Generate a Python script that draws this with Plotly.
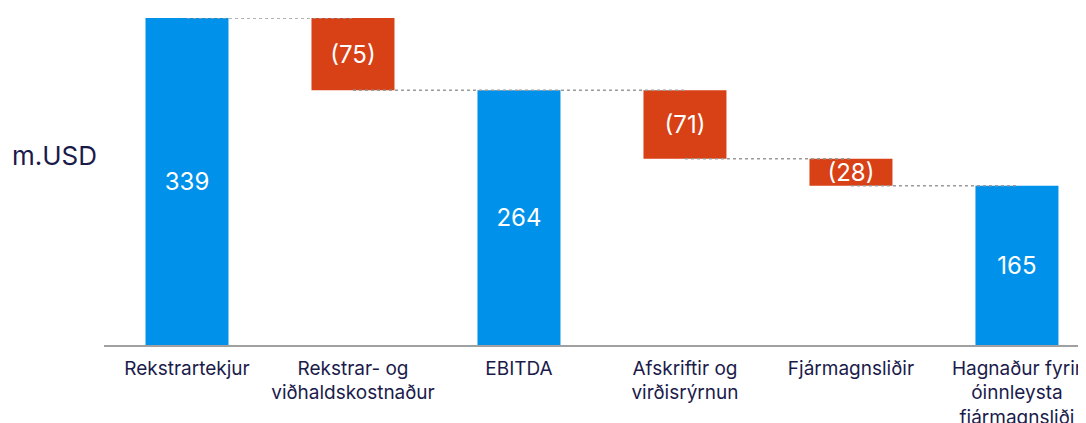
import plotly.graph_objects as go

categories = [
    "Rekstrartekjur",
    "Rekstrar- og<br>viðhaldskostnaður",
    "EBITDA",
    "Afskriftir og<br>virðisrýrnun",
    "Fjármagnsliðir",
    "Hagnaður fyrir<br>óinnleysta<br>fjármagnsliði",
]
measures = ["absolute", "relative", "total", "relative", "relative", "total"]
values = [339, -75, 0, -71, -28, 0]
labels = ["339", "(75)", "264", "(71)", "(28)", "165"]

BLUE = "#0091EA"
RED = "#D84016"
NAVY = "#1B1B4B"
FONT = "Inter, Liberation Sans, Arial, sans-serif"

fig = go.Figure()
fig.add_trace(go.Waterfall(
    x=categories,
    measure=measures,
    y=values,
    text=labels,
    textposition="inside",
    insidetextanchor="middle",
    textangle=0,
    constraintext="none",
    textfont=dict(color="white", size=24, family=FONT),
    increasing=dict(marker=dict(color=BLUE)),
    decreasing=dict(marker=dict(color=RED)),
    totals=dict(marker=dict(color=BLUE)),
    connector=dict(visible=False),
    width=0.5,
    hoverinfo="skip",
))

# connector levels computed from the data
levels = []
running = 0
for m, v in zip(measures, values):
    if m == "absolute":
        running = v
    elif m == "relative":
        running += v
    levels.append(running)

cx, cy = [], []
for i in range(len(categories) - 1):
    cx += [categories[i], categories[i + 1], None]
    cy += [levels[i], levels[i], None]
fig.add_trace(go.Scatter(
    x=cx, y=cy, mode="lines",
    line=dict(color="#9a9a9a", width=1.5, dash="dot"),
    hoverinfo="skip", showlegend=False,
))

fig.add_annotation(
    text="m.USD", xref="paper", yref="paper",
    x=-0.0957, y=0.581, xanchor="left", yanchor="middle",
    showarrow=False, font=dict(size=26, color=NAVY, family=FONT),
)

fig.update_layout(
    width=1086, height=423,
    margin=dict(l=96, r=8, t=10, b=86, autoexpand=False),
    paper_bgcolor="white", plot_bgcolor="white",
    showlegend=False,
    font=dict(family=FONT, color=NAVY),
)
fig.update_xaxes(
    type="category", range=[-0.5, 5.416], automargin=False,
    showline=True, linecolor="#a0a0a0", linewidth=1.5,
    showgrid=False, ticks="", ticklabelstandoff=5,
    tickfont=dict(size=19, color=NAVY, family=FONT),
    fixedrange=True,
)
fig.update_yaxes(
    range=[0, 339], visible=False, showgrid=False, zeroline=False,
    fixedrange=True, automargin=False,
)

fig.write_html("out.html")
